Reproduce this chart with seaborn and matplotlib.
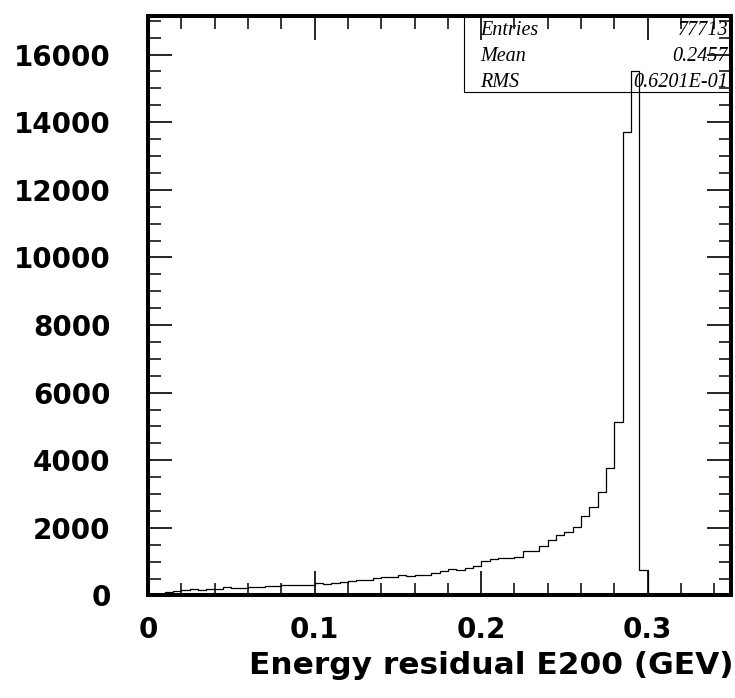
# Energy residual E200 histogram (PAW/ROOT style)

import numpy as np
import pandas as pd
import matplotlib
matplotlib.use('Agg')
import matplotlib.pyplot as plt
from matplotlib.ticker import MultipleLocator
from matplotlib.patches import Rectangle
import seaborn as sns

# 70 bins of 0.005 GEV from 0 to 0.35
bin_width = 0.005
x_range = (0.0, 0.35)
bin_lo = np.round(np.arange(0, 0.35 - bin_width / 2, bin_width), 4)

# counts per bin
counts = [0, 15, 100, 145, 165, 185, 157, 182, 205, 245,
          225, 222, 240, 255, 275, 278, 305, 310, 312, 318,
          373, 334, 355, 393, 414, 444, 462, 503, 541, 551,
          592, 571, 610, 592, 669, 710, 778, 752, 817, 867,
          1006, 1065, 1095, 1100, 1143, 1311, 1315, 1460, 1628, 1785,
          1882, 2036, 2362, 2608, 3052, 3782, 5144, 13718, 15520, 750,
          0, 0, 0, 0, 0, 0, 0, 0, 0, 0]

stats_labels = ['Entries', 'Mean', 'RMS']
stats_values = ['77713', '0.2457', '0.6201E-01']

df = pd.DataFrame({'E200': bin_lo + bin_width / 2, 'n': counts})

sns.set_style('white')
plt.rcParams['font.family'] = ['DejaVu Sans']

fig = plt.figure(figsize=(7.35, 6.98), dpi=100)
ax = fig.add_axes([0.2014, 0.1469, 0.7932, 0.8301])

sns.histplot(data=df, x='E200', weights='n', binwidth=bin_width, binrange=x_range,
             element='step', fill=False, color='black', linewidth=0.9, ax=ax)

ax.set_xlim(0, 0.35)
ax.set_ylim(0, 17140)

ax.xaxis.set_major_locator(MultipleLocator(0.1))
ax.xaxis.set_minor_locator(MultipleLocator(0.02))
ax.yaxis.set_major_locator(MultipleLocator(2000))
ax.yaxis.set_minor_locator(MultipleLocator(500))
ax.set_xticks([0, 0.1, 0.2, 0.3])
ax.set_xticklabels(['0', '0.1', '0.2', '0.3'])

for s in ax.spines.values():
    s.set_linewidth(2.9)
    s.set_color('black')

ax.tick_params(which='both', direction='in', top=True, right=True,
               bottom=True, left=True, colors='black')
ax.tick_params(which='major', length=17, width=1.2)
ax.tick_params(which='minor', length=9, width=1.1)
ax.tick_params(axis='x', which='major', pad=15)
ax.tick_params(axis='y', which='major', pad=27)
for lab in ax.get_xticklabels() + ax.get_yticklabels():
    lab.set_fontsize(20)
    lab.set_fontweight('bold')

ax.set_ylabel('')
ax.set_xlabel('Energy residual E200 (GEV)', fontsize=22.5, fontweight='bold',
              loc='right', color='black')
ax.xaxis.set_label_coords(1.004, -0.095)

# statistics box
ax.add_patch(Rectangle((0.542, 0.8697), 0.46, 0.14, transform=ax.transAxes,
                       fill=False, edgecolor='black', linewidth=0.8, zorder=3))
for i, (lab, val) in enumerate(zip(stats_labels, stats_values)):
    yy = 0.968 - i * 0.045
    ax.text(0.5695, yy, lab, transform=ax.transAxes, ha='left', va='baseline',
            fontsize=14.5, style='italic', family='Liberation Serif', color='black')
    ax.text(0.9949, yy, val, transform=ax.transAxes, ha='right', va='baseline',
            fontsize=14.5, style='italic', family='Liberation Serif', color='black')

plt.savefig('out.png', dpi=100)
plt.close()
